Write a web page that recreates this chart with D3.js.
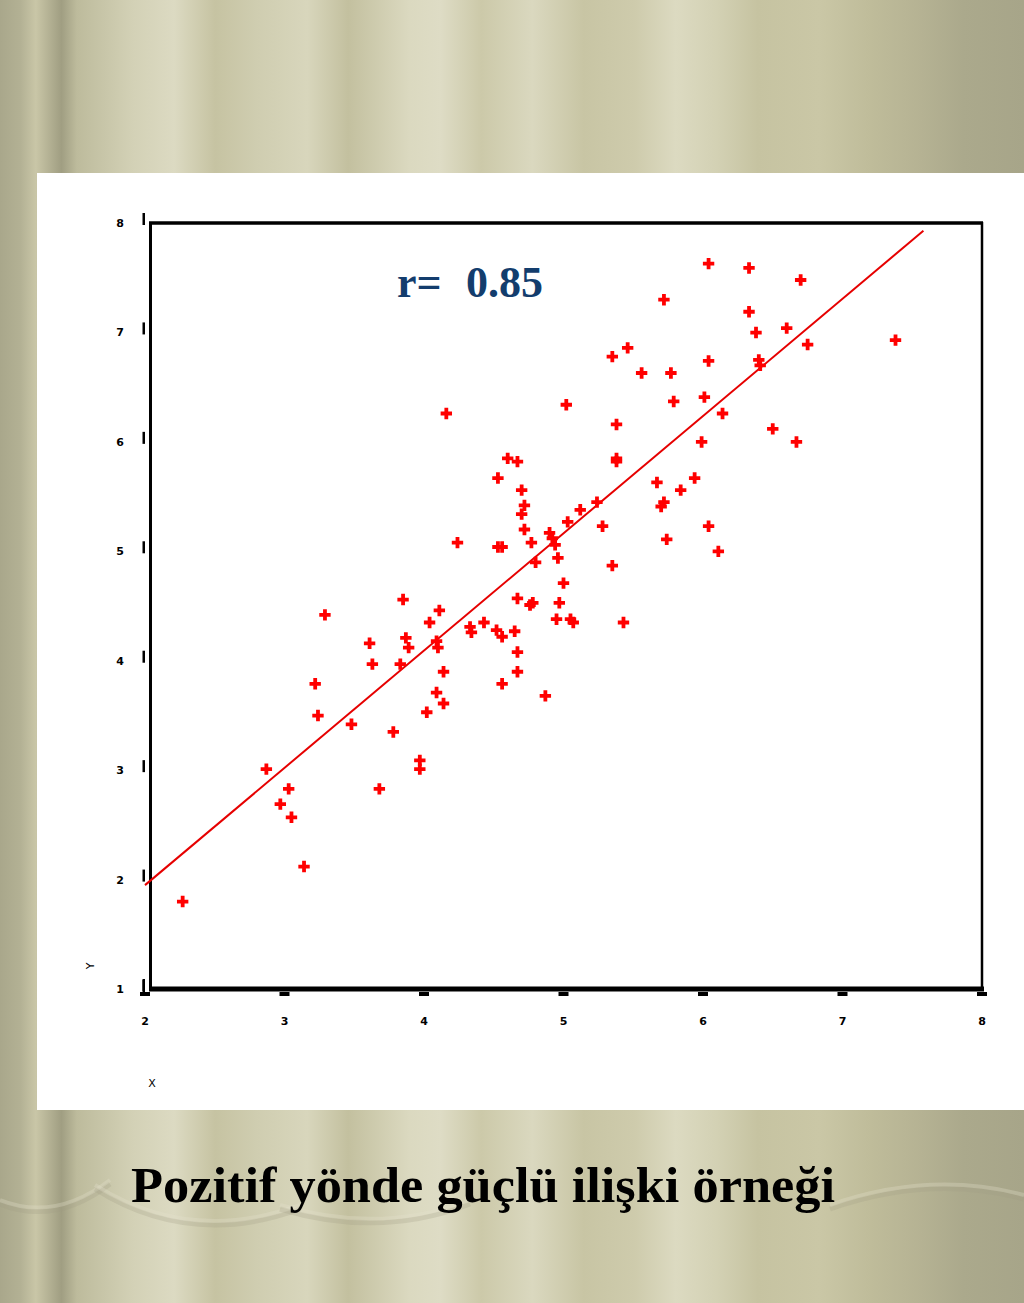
<!DOCTYPE html>
<html>
<head>
<meta charset="utf-8">
<script src="https://cdn.jsdelivr.net/npm/d3@7"></script>
<style>
  html, body { margin: 0; padding: 0; background: #c8c5a5; }
  svg { display: block; }
</style>
</head>
<body>
<div id="chart"></div>
<script>
// ---------- data ----------
const xValues = [
  2.27, 2.87, 2.97, 3.03, 3.05, 3.14, 3.22, 3.24, 3.29, 3.48,
  3.61, 3.63, 3.68, 3.78, 3.83, 3.85, 3.87, 3.89, 3.97, 3.97,
  4.02, 4.04, 4.09, 4.10, 4.09, 4.11, 4.14, 4.14, 4.33, 4.34,
  4.43, 4.52, 4.56, 4.65, 4.67, 4.67, 4.56, 4.87, 4.67, 4.76,
  4.78, 5.00, 4.97, 4.95, 5.05, 5.07, 4.16, 5.02, 4.60, 4.67,
  4.53, 4.70, 4.72, 4.70, 4.72, 4.24, 4.53, 4.56, 4.77, 4.90,
  4.92, 4.94, 4.96, 4.80, 5.03, 5.12, 5.24, 5.28, 5.35, 5.35,
  5.46, 5.38, 5.38, 5.38, 5.56, 5.67, 5.70, 5.72, 5.72, 5.74,
  5.77, 5.79, 5.84, 5.94, 5.99, 6.01, 6.04, 6.04, 6.04, 6.11,
  6.14, 6.33, 6.33, 6.38, 6.40, 6.41, 6.50, 6.60, 6.67, 6.70,
  6.75, 7.38, 5.43
];
const yValues = [
  1.79, 3.00, 2.68, 2.82, 2.56, 2.11, 3.78, 3.49, 4.41, 3.41,
  4.15, 3.96, 2.82, 3.34, 3.96, 4.55, 4.20, 4.11, 3.08, 3.00,
  3.52, 4.34, 4.17, 4.11, 3.70, 4.45, 3.89, 3.60, 4.30, 4.25,
  4.34, 4.27, 4.21, 4.26, 4.07, 3.89, 3.78, 3.67, 4.56, 4.50,
  4.52, 4.70, 4.52, 4.37, 4.37, 4.34, 6.25, 6.33, 5.84, 5.81,
  5.66, 5.55, 5.41, 5.33, 5.19, 5.07, 5.03, 5.03, 5.07, 5.16,
  5.11, 5.05, 4.93, 4.89, 5.26, 5.37, 5.44, 5.22, 4.86, 6.77,
  6.85, 6.15, 5.84, 5.81, 6.62, 5.62, 5.40, 5.44, 7.29, 5.10,
  6.62, 6.36, 5.55, 5.66, 5.99, 6.40, 7.62, 6.73, 5.22, 4.99,
  6.25, 7.58, 7.18, 6.99, 6.74, 6.69, 6.11, 7.03, 5.99, 7.47,
  6.88, 6.92, 4.34
];
const fitLineX = [2.0, 7.58];
const fitLineY = [1.94, 7.92];
const xTicks = [2, 3, 4, 5, 6, 7, 8];
const yTicks = [1, 2, 3, 4, 5, 6, 7, 8];
const xTickLabels = ["2", "3", "4", "5", "6", "7", "8"];
const yTickLabels = ["1", "2", "3", "4", "5", "6", "7", "8"];
const rLabel = ["r=", "0.85"];
const xTitle = "X";
const yTitle = "Y";
const slideTitle = "Pozitif yönde güçlü ilişki örneği";

// ---------- drawing ----------
const W = 1024, H = 1303;
const svg = d3.select("#chart").append("svg").attr("width", W).attr("height", H);
const defs = svg.append("defs");

const grad = defs.append("linearGradient").attr("id", "curtain")
  .attr("x1", "0").attr("x2", "1").attr("y1", "0").attr("y2", "0");
[
  [0, "#a9a78b"], [0.02, "#b3b194"], [0.035, "#c9c6a7"], [0.06, "#a09e82"],
  [0.075, "#bdbb9c"], [0.13, "#d3d1b6"], [0.17, "#dcdac2"], [0.21, "#c6c3a2"],
  [0.25, "#cfcdb0"], [0.30, "#d8d6bc"], [0.34, "#c3c09f"], [0.40, "#dbd9c0"],
  [0.43, "#dedcc5"], [0.47, "#ccc9a9"], [0.52, "#dad8bf"], [0.57, "#c8c5a4"],
  [0.62, "#cecbac"], [0.66, "#dcdac1"], [0.70, "#d3d1b4"], [0.74, "#c6c3a1"],
  [0.80, "#cac7a6"], [0.85, "#bfbc9a"], [0.90, "#b5b293"], [0.94, "#aba98c"],
  [1, "#a7a589"]
].forEach(([o, c]) => grad.append("stop").attr("offset", o).attr("stop-color", c));

svg.append("rect").attr("width", W).attr("height", H).attr("fill", "url(#curtain)");

// curtain folds at the bottom
const folds = svg.append("g").attr("fill", "none");
[
  "M0,1200 Q55,1222 110,1180",
  "M95,1185 Q190,1245 300,1205",
  "M280,1205 Q380,1235 470,1200",
  "M830,1205 Q930,1170 1024,1195"
].forEach(p => {
  folds.append("path").attr("d", p).attr("stroke", "#9f9d82").attr("stroke-width", 5)
    .attr("opacity", 0.25).attr("transform", "translate(0,4)");
  folds.append("path").attr("d", p).attr("stroke", "#e4e2cc").attr("stroke-width", 4)
    .attr("opacity", 0.3);
});

// white panel
svg.append("rect").attr("x", 37).attr("y", 173).attr("width", W - 37).attr("height", 1110 - 173)
  .attr("fill", "#ffffff");

const x = d3.scaleLinear().domain([2, 8]).range([145, 982]);
const y = d3.scaleLinear().domain([1, 8]).range([988, 222]);

// frame
const frame = svg.append("g").attr("stroke", "#000");
frame.append("line").attr("x1", 149).attr("x2", 983).attr("y1", 223).attr("y2", 223).attr("stroke-width", 3.5);
frame.append("line").attr("x1", 150.5).attr("x2", 150.5).attr("y1", 222).attr("y2", 990).attr("stroke-width", 3);
frame.append("line").attr("x1", 982).attr("x2", 982).attr("y1", 222).attr("y2", 990).attr("stroke-width", 2.5);
frame.append("line").attr("x1", 149).attr("x2", 984).attr("y1", 989).attr("y2", 989).attr("stroke-width", 5);

// y ticks: small vertical marks left of axis
const tickFont = "'DejaVu Sans', sans-serif";
svg.append("g").selectAll("rect").data(yTicks).join("rect")
  .attr("x", 142.5).attr("width", 2.5)
  .attr("y", d => y(d) - 9).attr("height", 12).attr("fill", "#000");
svg.append("g").selectAll("text").data(yTicks).join("text")
  .attr("x", 124).attr("y", d => y(d) + 5)
  .attr("text-anchor", "end").attr("font-family", tickFont).attr("font-weight", "bold")
  .attr("font-size", 11).attr("fill", "#000")
  .text((d, i) => yTickLabels[i]);

// x ticks: small horizontal marks below axis
svg.append("g").selectAll("rect").data(xTicks).join("rect")
  .attr("x", d => x(d) - 5).attr("width", 10)
  .attr("y", 992).attr("height", 4).attr("fill", "#000");
svg.append("rect").attr("x", 142.5).attr("y", 980).attr("width", 2.5).attr("height", 16).attr("fill", "#000");
svg.append("g").selectAll("text").data(xTicks).join("text")
  .attr("x", d => x(d)).attr("y", 1025)
  .attr("text-anchor", "middle").attr("font-family", tickFont).attr("font-weight", "bold")
  .attr("font-size", 11).attr("fill", "#000")
  .text((d, i) => xTickLabels[i]);

// axis titles
svg.append("text").attr("x", 152).attr("y", 1087).attr("text-anchor", "middle")
  .attr("font-family", tickFont).attr("font-size", 11).attr("fill", "#000").text(xTitle);
svg.append("text").attr("transform", "translate(94,966) rotate(-90)").attr("text-anchor", "middle")
  .attr("font-family", tickFont).attr("font-size", 11).attr("fill", "#000").text(yTitle);

// regression line
const line = d3.line().x(d => x(d[0])).y(d => y(d[1]));
svg.append("path").datum(fitLineX.map((v, i) => [v, fitLineY[i]]))
  .attr("d", line).attr("fill", "none").attr("stroke", "#e60000").attr("stroke-width", 2);

// points
const cross = d3.symbol().type(d3.symbolCross).size(72);
svg.append("g").selectAll("path").data(xValues.map((v, i) => [v, yValues[i]])).join("path")
  .attr("d", cross)
  .attr("transform", d => `translate(${x(d[0])},${y(d[1])})`)
  .attr("fill", "#ff0000");

// r label
const rFont = "'Liberation Serif', 'Times New Roman', serif";
svg.append("text").attr("x", 397).attr("y", 297).attr("font-family", rFont)
  .attr("font-weight", "bold").attr("font-size", 44).attr("fill", "#133d6d").text(rLabel[0]);
svg.append("text").attr("x", 466).attr("y", 297).attr("font-family", rFont)
  .attr("font-weight", "bold").attr("font-size", 44).attr("fill", "#133d6d").text(rLabel[1]);

// slide title
svg.append("text").attr("x", 131).attr("y", 1202).attr("font-family", rFont)
  .attr("font-weight", "bold").attr("font-size", 51).attr("fill", "#000")
  .attr("textLength", 704).attr("lengthAdjust", "spacingAndGlyphs")
  .text(slideTitle);
</script>
</body>
</html>
